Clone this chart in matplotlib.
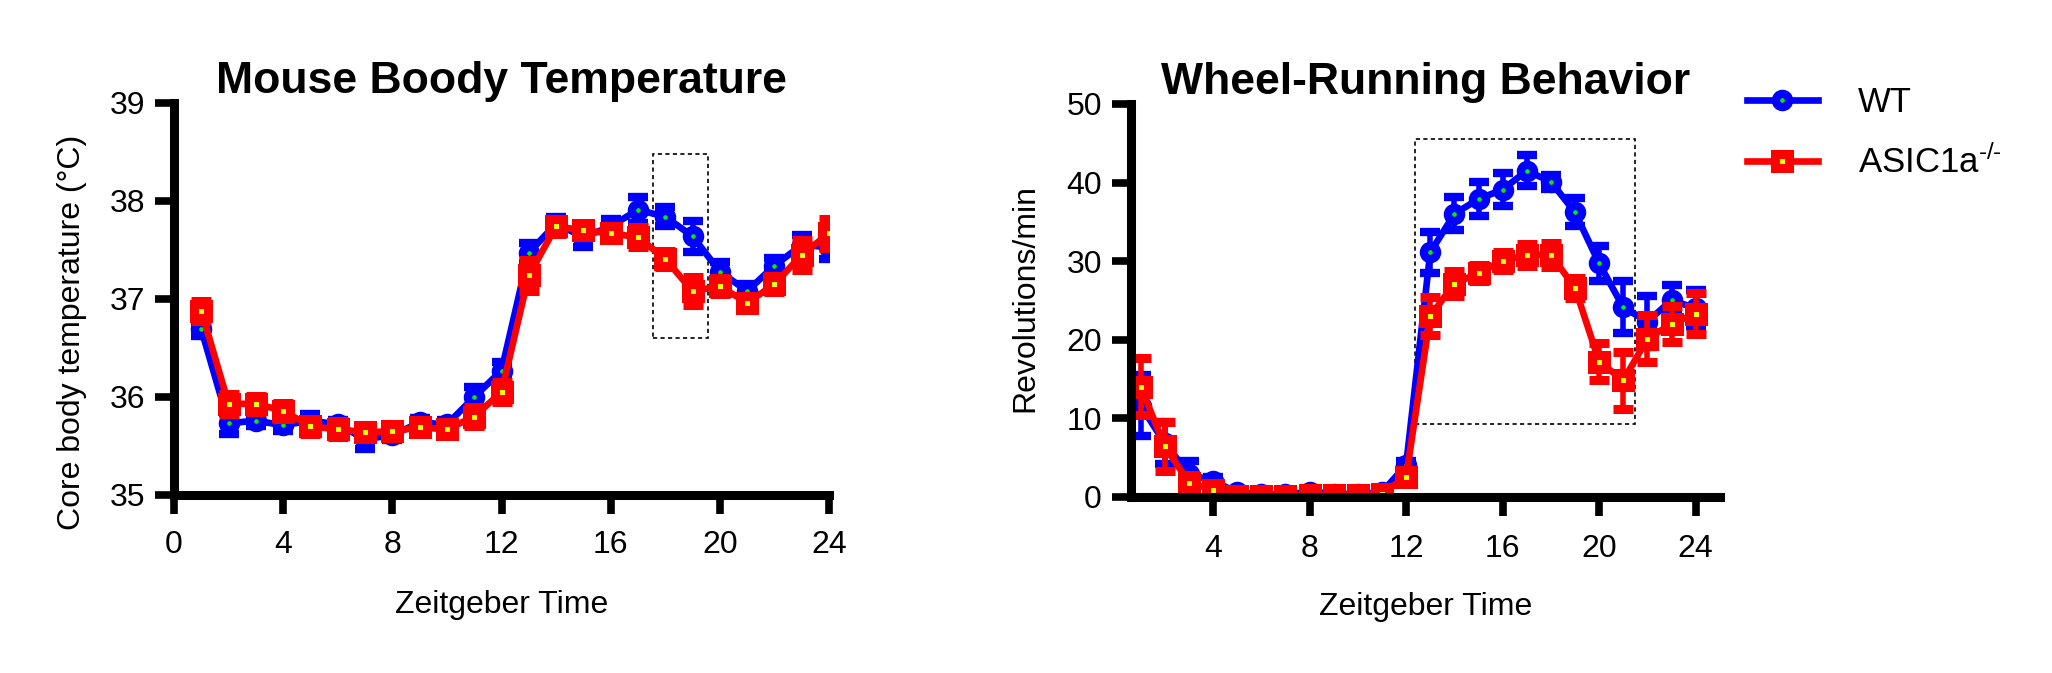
import matplotlib
matplotlib.use('Agg')
import matplotlib.pyplot as plt
from matplotlib.patches import Rectangle

plt.rcParams['font.family'] = ['Liberation Sans', 'DejaVu Sans']
plt.rcParams['mathtext.fontset'] = 'custom'
plt.rcParams['mathtext.rm'] = 'Liberation Sans'
plt.rcParams['mathtext.it'] = 'Liberation Sans:italic'
plt.rcParams['mathtext.bf'] = 'Liberation Sans:bold'

# zeitgeber hours
zt = [1, 2, 3, 4, 5, 6, 7, 8, 9, 10, 11, 12,
      13, 14, 15, 16, 17, 18, 19, 20, 21, 22, 23, 24]

# core body temperature (deg C), mean and SEM
temp_wt = [36.69, 35.73, 35.76, 35.71, 35.76, 35.72, 35.57, 35.61, 35.74, 35.72, 36.00, 36.27,
           37.47, 37.77, 37.63, 37.74, 37.91, 37.84, 37.64, 37.28, 37.08, 37.34, 37.55, 37.53]
temp_wt_sem = [0.07, 0.11, 0.06, 0.06, 0.07, 0.05, 0.10, 0.05, 0.05, 0.05, 0.10, 0.09,
               0.10, 0.07, 0.10, 0.08, 0.13, 0.10, 0.16, 0.10, 0.07, 0.08, 0.10, 0.12]
temp_ko = [36.88, 35.93, 35.93, 35.86, 35.70, 35.67, 35.64, 35.65, 35.69, 35.67, 35.80, 36.05,
           37.24, 37.74, 37.70, 37.67, 37.63, 37.41, 37.08, 37.13, 36.96, 37.15, 37.45, 37.67]
temp_ko_sem = [0.10, 0.10, 0.08, 0.08, 0.08, 0.08, 0.07, 0.07, 0.06, 0.07, 0.10, 0.10,
               0.16, 0.08, 0.06, 0.07, 0.10, 0.08, 0.14, 0.08, 0.07, 0.08, 0.15, 0.15]

# wheel running (revolutions/min), mean and SEM
wheel_wt = [11.6, 6.8, 2.9, 2.0, 0.55, 0.3, 0.3, 0.6, 0.4, 0.3, 0.6, 4.0,
            31.1, 36.0, 37.9, 39.1, 41.5, 40.1, 36.2, 29.7, 24.1, 22.3, 25.0, 24.0]
wheel_wt_sem = [3.9, 2.7, 1.7, 0.5, 0.3, 0.2, 0.2, 0.3, 0.2, 0.2, 0.3, 0.6,
                2.6, 2.1, 2.2, 2.1, 2.0, 0.9, 1.8, 2.2, 3.3, 3.3, 1.9, 2.3]
wheel_ko = [14.0, 6.4, 1.8, 0.85, 0.1, 0.05, 0.05, 0.2, 0.2, 0.2, 0.35, 2.55,
            23.0, 27.1, 28.5, 30.0, 30.8, 30.8, 26.6, 17.2, 14.8, 20.1, 22.0, 23.3]
wheel_ko_sem = [3.6, 3.1, 1.0, 0.4, 0.1, 0.05, 0.05, 0.1, 0.1, 0.1, 0.2, 0.5,
                2.45, 1.6, 1.0, 1.2, 1.4, 1.5, 1.3, 2.4, 3.6, 3.0, 2.3, 2.6]

# highlighted windows: x0, x1, y0, y1
temp_box = [17.55, 19.55, 36.6, 38.48]
wheel_box = [12.36, 21.5, 9.3, 45.6]

labels = ['WT', 'ASIC1a$^{\u2010/\u2010}$']

wt_style = dict(color='#0000ff', marker='o', markersize=9.5, markeredgewidth=6,
                markerfacecolor='#00ee00', markeredgecolor='#0000ff', linewidth=4.8,
                elinewidth=4, capsize=7, capthick=4)
ko_style = dict(color='#ff0000', marker='s', markersize=10, markeredgewidth=6.5,
                markerfacecolor='#ffff00', markeredgecolor='#ff0000', linewidth=4.8,
                elinewidth=4, capsize=7, capthick=4)

fig = plt.figure(figsize=(20.52, 6.73), dpi=100)
ax1 = fig.add_axes([0.0848, 0.2645, 0.3192, 0.5825])
ax2 = fig.add_axes([0.5512, 0.2620, 0.2869, 0.5835])


def style_axes(ax, xpad):
    for s in ['top', 'right']:
        ax.spines[s].set_visible(False)
    for s in ['left', 'bottom']:
        ax.spines[s].set_linewidth(6.5)
        ax.spines[s].set_capstyle('projecting')
    ax.tick_params(axis='both', length=14, width=5.5, labelsize=23)
    ax.tick_params(axis='y', pad=7)
    ax.tick_params(axis='x', pad=xpad)


# left: body temperature
ax1.add_patch(Rectangle((temp_box[0], temp_box[2]), temp_box[1] - temp_box[0],
                        temp_box[3] - temp_box[2], fill=False, edgecolor='black',
                        linewidth=1.2, linestyle=(0, (2.5, 2)), zorder=1))
ax1.errorbar(zt, temp_wt, yerr=temp_wt_sem, zorder=3, **wt_style)
ax1.errorbar(zt, temp_ko, yerr=temp_ko_sem, zorder=4, **ko_style)
ax1.set_xlim(0, 24)
ax1.set_ylim(35, 39)
ax1.set_xticks([0, 4, 8, 12, 16, 20, 24])
ax1.set_yticks([35, 36, 37, 38, 39])
style_axes(ax1, 11.5)
ax1.set_title('Mouse Boody Temperature', fontsize=32, fontweight='bold', pad=7)
ax1.set_xlabel('Zeitgeber Time', fontsize=23)
ax1.set_ylabel('Core body temperature (\u00b0C)', fontsize=23)
ax1.xaxis.set_label_coords(0.5, -0.242)
ax1.yaxis.set_label_coords(-0.156, 0.416)
ax1.yaxis.label.set_va('center')

# right: wheel running
ax2.add_patch(Rectangle((wheel_box[0], wheel_box[2]), wheel_box[1] - wheel_box[0],
                        wheel_box[3] - wheel_box[2], fill=False, edgecolor='black',
                        linewidth=1.2, linestyle=(0, (2.5, 2)), zorder=1))
eb_wt = ax2.errorbar(zt, wheel_wt, yerr=wheel_wt_sem, zorder=3, **wt_style)
eb_ko = ax2.errorbar(zt, wheel_ko, yerr=wheel_ko_sem, zorder=4, **ko_style)
ax2.set_xlim(0.6, 25)
ax2.set_ylim(0, 50)
ax2.set_xticks([4, 8, 12, 16, 20, 24])
ax2.set_yticks([0, 10, 20, 30, 40, 50])
style_axes(ax2, 13)
ax2.set_title('Wheel-Running Behavior', fontsize=32, fontweight='bold', pad=7)
ax2.set_xlabel('Zeitgeber Time', fontsize=23)
ax2.set_ylabel('Revolutions/min', fontsize=23)
ax2.xaxis.set_label_coords(0.5, -0.242)
ax2.yaxis.set_label_coords(-0.18, 0.505)
ax2.yaxis.label.set_va('center')

for ax in (ax1, ax2):
    ax.xaxis.label.set_va('top')
    for sp in ax.spines.values():
        sp.set_zorder(5)

ax2.legend([eb_wt[0], eb_ko[0]], labels, loc='upper left',
           bbox_to_anchor=(0.8512, 0.872), bbox_transform=fig.transFigure,
           frameon=False, fontsize=25, numpoints=1, borderpad=0, borderaxespad=0,
           handlelength=2.06, handletextpad=1.15, labelspacing=0.74)

fig.savefig('out.png', dpi=100)
plt.close('all')
